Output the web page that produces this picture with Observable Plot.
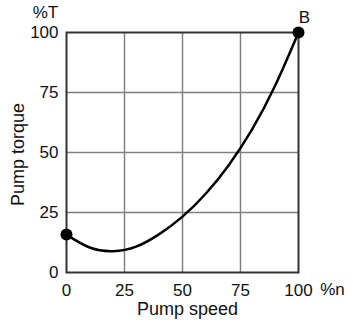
<!DOCTYPE html>
<html>
<head>
<meta charset="utf-8">
<script src="https://cdn.jsdelivr.net/npm/d3@7"></script>
<script src="https://cdn.jsdelivr.net/npm/@observablehq/plot@0.6"></script>
<style>
  html, body { margin: 0; padding: 0; background: #fff; }
  svg { font-family: "Liberation Sans", Arial, sans-serif; }
</style>
</head>
<body>
<div id="chart"></div>
<script>
const speed  = [0, 10, 20, 30, 40, 50, 60, 70, 80, 90, 100];
const torque = [15.8, 10.4, 8.9, 10.8, 16.0, 23.3, 32.8, 44.8, 59.6, 78.0, 100];
const endSpeed  = [0, 100];
const endTorque = [15.8, 100];
const ticks = [0, 25, 50, 75, 100];
const gridTicks = [25, 50, 75];

const curve = speed.map((s, i) => ({s, t: torque[i]}));
const ends = endSpeed.map((s, i) => ({s, t: endTorque[i]}));

const chart = Plot.plot({
  width: 353,
  height: 322,
  marginLeft: 66,
  marginRight: 55,
  marginTop: 32,
  marginBottom: 50,
  style: {fontFamily: '"Liberation Sans", Arial, sans-serif', fontSize: "17px", color: "#111", background: "#fff"},
  x: {domain: [0, 100], label: null},
  y: {domain: [0, 100], label: null},
  marks: [
    Plot.gridX(gridTicks, {stroke: "#808080", strokeOpacity: 1, strokeWidth: 1.5}),
    Plot.gridY(gridTicks, {stroke: "#808080", strokeOpacity: 1, strokeWidth: 1.5}),
    Plot.frame({stroke: "#333", strokeWidth: 2}),
    Plot.axisX({ticks: ticks, tickSize: 0, tickPadding: 11, fontSize: 17, label: null}),
    Plot.axisY({ticks: ticks, tickSize: 0, tickPadding: 8, fontSize: 17, label: null}),
    Plot.line(curve, {x: "s", y: "t", curve: "natural", stroke: "#000", strokeWidth: 2.5}),
    Plot.dot(ends, {x: "s", y: "t", r: 6, fill: "#000", stroke: "none"}),
    Plot.text([ends[1]], {x: "s", y: "t", text: () => "B", dx: 6, dy: -15, fontSize: 17, fill: "#111"}),
    Plot.text([{s: 0, t: 100}], {x: "s", y: "t", text: () => "%T", dx: -21, dy: -20, fontSize: 17, fill: "#111"}),
    Plot.text([{s: 100, t: 0}], {x: "s", y: "t", text: () => "%n", dx: 34, dy: 17, fontSize: 17, fill: "#111"}),
    Plot.text([{s: 50, t: 0}], {x: "s", y: "t", text: () => "Pump speed", dx: 5, dy: 37, fontSize: 18, fill: "#111"}),
    Plot.text([{s: 0, t: 50}], {x: "s", y: "t", text: () => "Pump torque", dx: -48, dy: 2, rotate: -90, fontSize: 18, fill: "#111"})
  ]
});
document.getElementById("chart").appendChild(chart);
</script>
</body>
</html>
